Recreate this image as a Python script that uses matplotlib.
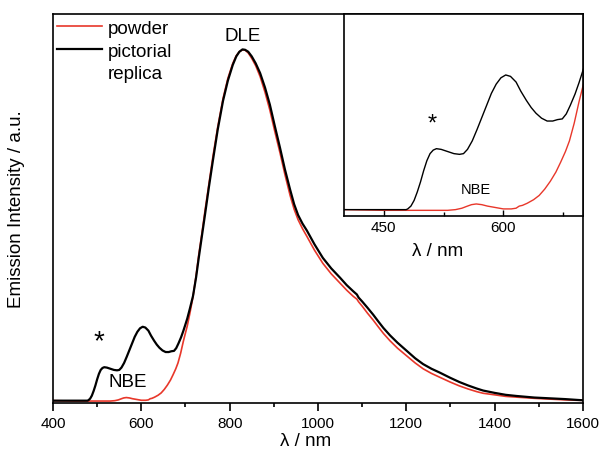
import matplotlib
matplotlib.use("Agg")
import matplotlib.pyplot as plt
from matplotlib.lines import Line2D
from matplotlib.ticker import MultipleLocator

plt.rcParams['font.family'] = ['Liberation Sans', 'DejaVu Sans']

# pictorial replica (black)
wl_replica = [400, 430, 460, 478, 480, 484, 488, 492, 496, 500, 504, 508, 512, 516,
              522, 530, 538, 545, 550, 555, 561, 567, 573, 579, 585, 591, 597, 603,
              609, 616, 622, 629, 635, 641, 648, 655, 662, 668, 674, 679, 684, 690,
              695, 699, 704, 710, 717, 724, 730, 737, 744, 753, 762, 773, 785, 796,
              807, 815, 822, 829, 835, 842, 850, 859, 869, 880, 891, 902, 914, 925,
              937, 946, 955, 965, 975, 992, 1011, 1030, 1050, 1065, 1080, 1088, 1092,
              1100, 1112, 1125, 1137, 1148, 1163, 1180, 1201, 1220, 1238, 1257, 1276,
              1299, 1320, 1340, 1360, 1374, 1400, 1425, 1450, 1490, 1525, 1560, 1586,
              1600]
int_replica = [0.003, 0.003, 0.003, 0.003, 0.004, 0.008, 0.016, 0.028, 0.042, 0.058,
               0.072, 0.082, 0.087, 0.089, 0.088, 0.085, 0.082, 0.081, 0.082, 0.088,
               0.100, 0.116, 0.133, 0.150, 0.167, 0.180, 0.189, 0.193, 0.191, 0.183,
               0.170, 0.157, 0.147, 0.139, 0.132, 0.128, 0.128, 0.130, 0.131, 0.138,
               0.150, 0.166, 0.182, 0.196, 0.214, 0.240, 0.272, 0.320, 0.370, 0.425,
               0.480, 0.552, 0.620, 0.700, 0.774, 0.826, 0.866, 0.888, 0.900, 0.906,
               0.905, 0.900, 0.888, 0.870, 0.845, 0.808, 0.764, 0.710, 0.653, 0.598,
               0.545, 0.508, 0.480, 0.458, 0.440, 0.405, 0.370, 0.343, 0.319, 0.300,
               0.284, 0.276, 0.268, 0.258, 0.242, 0.224, 0.206, 0.190, 0.171, 0.152,
               0.131, 0.112, 0.097, 0.085, 0.075, 0.062, 0.051, 0.042, 0.034, 0.029,
               0.023, 0.018, 0.015, 0.011, 0.009, 0.007, 0.005, 0.004]

# powder (red)
wl_powder = [400, 450, 500, 530, 540, 548, 555, 560, 566, 573, 580, 590, 600, 610,
             616, 620, 624, 630, 638, 645, 652, 659, 666, 672, 678, 683, 689, 695,
             699, 704, 710, 717, 724, 730, 737, 744, 753, 762, 773, 785, 796, 807,
             815, 822, 829, 835, 842, 850, 859, 869, 880, 891, 902, 914, 925, 937,
             946, 955, 965, 975, 992, 1011, 1030, 1050, 1065, 1080, 1088, 1092, 1100,
             1112, 1125, 1137, 1148, 1163, 1180, 1201, 1220, 1238, 1257, 1276, 1299,
             1320, 1340, 1360, 1374, 1400, 1425, 1450, 1490, 1525, 1560, 1586, 1600]
int_powder = [0.003, 0.002, 0.002, 0.002, 0.003, 0.005, 0.008, 0.010, 0.011, 0.010,
              0.008, 0.006, 0.004, 0.004, 0.005, 0.008, 0.009, 0.012, 0.017, 0.023,
              0.032, 0.043, 0.056, 0.070, 0.085, 0.100, 0.125, 0.155, 0.173, 0.195,
              0.228, 0.270, 0.325, 0.378, 0.432, 0.490, 0.560, 0.630, 0.707, 0.780,
              0.832, 0.870, 0.890, 0.900, 0.905, 0.904, 0.897, 0.883, 0.864, 0.836,
              0.796, 0.750, 0.696, 0.640, 0.585, 0.530, 0.495, 0.468, 0.445, 0.425,
              0.390, 0.356, 0.329, 0.305, 0.287, 0.271, 0.264, 0.257, 0.246, 0.228,
              0.210, 0.192, 0.176, 0.157, 0.138, 0.118, 0.100, 0.085, 0.073, 0.063,
              0.051, 0.041, 0.033, 0.026, 0.022, 0.018, 0.014, 0.012, 0.009, 0.007,
              0.005, 0.004, 0.004]

fig = plt.figure(figsize=(6.03, 4.52), dpi=100)
ax = fig.add_axes([0.0879, 0.1062, 0.8789, 0.8606])

ax.plot(wl_powder, int_powder, color='#e8372a', lw=1.2)
ax.plot(wl_replica, int_replica, color='black', lw=1.6)

ax.set_xlim(400, 1600)
ax.set_ylim(-0.003, 0.997)
ax.xaxis.set_major_locator(MultipleLocator(200))
ax.xaxis.set_minor_locator(MultipleLocator(100))
ax.tick_params(axis='x', which='major', direction='out', length=6, width=1.2, labelsize=11)
ax.tick_params(axis='x', which='minor', direction='out', length=3, width=1.2)
ax.set_yticks([])
for s in ax.spines.values():
    s.set_linewidth(1.2)
ax.set_xlabel("λ / nm", fontsize=13.5, labelpad=2)
ax.xaxis.set_label_coords(0.477, -0.075)
ax.set_ylabel("Emission Intensity / a.u.", fontsize=13.5, labelpad=20)

ax.text(830, 0.943, "DLE", fontsize=13.5, ha='center', va='center')
ax.text(504, 0.155, "*", fontsize=20, ha='center', va='center')
ax.text(570, 0.051, "NBE", fontsize=13.5, ha='center', va='center')

handles = [Line2D([], [], color='#e8372a', lw=1.2),
           Line2D([], [], color='black', lw=1.6),
           Line2D([], [], color='none')]
ax.legend(handles, ["powder", "pictorial", "replica"], loc='upper left',
          bbox_to_anchor=(0.0, 0.995), frameon=False, fontsize=13.5,
          handlelength=2.4, handletextpad=0.3, labelspacing=0.3,
          borderpad=0.2, borderaxespad=0.0)

# inset
axi = fig.add_axes([0.5705, 0.5199, 0.3963, 0.4469])
axi.plot(wl_powder, int_powder, color='#e8372a', lw=1.0)
axi.plot(wl_replica, int_replica, color='black', lw=1.0)
axi.set_xlim(400, 700)
axi.set_ylim(-0.006, 0.279)
axi.xaxis.set_major_locator(MultipleLocator(150))
axi.xaxis.set_minor_locator(MultipleLocator(75))
axi.tick_params(axis='x', which='major', direction='in', length=4, width=1.0, labelsize=11, pad=3)
axi.tick_params(axis='x', which='minor', direction='in', length=3, width=1.0)
axi.set_yticks([])
for s in axi.spines.values():
    s.set_linewidth(1.2)
axi.set_xlabel("λ / nm", fontsize=13.5, labelpad=0)
axi.xaxis.set_label_coords(0.39, -0.13)
axi.text(511, 0.124, "*", fontsize=17, ha='center', va='center')
axi.text(565, 0.032, "NBE", fontsize=10.5, ha='center', va='center')

fig.savefig("out.png", dpi=100)
